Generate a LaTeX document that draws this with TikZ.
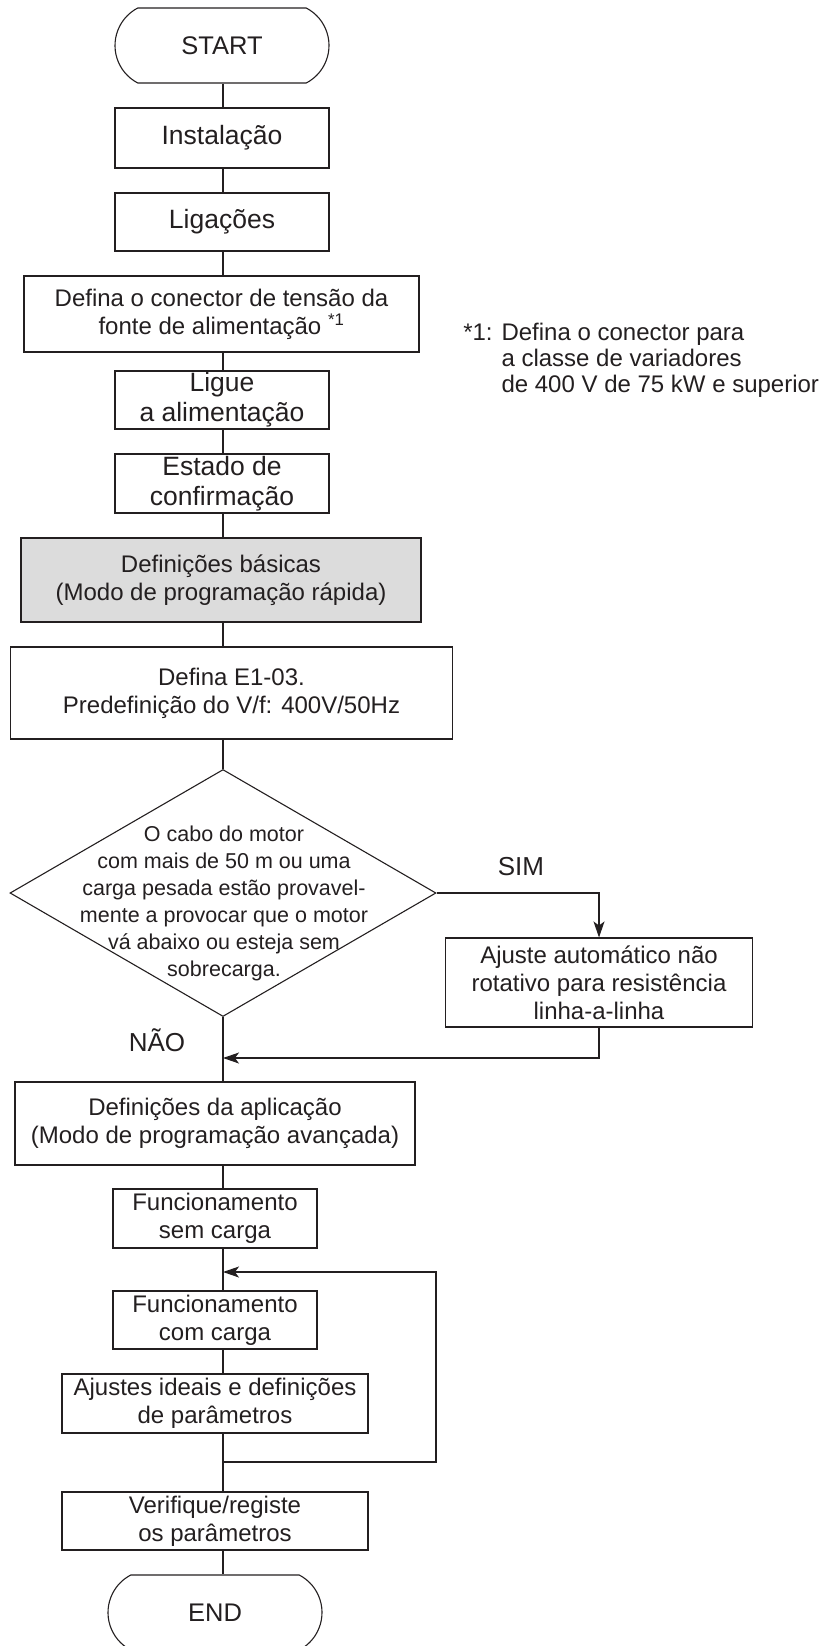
\documentclass[tikz,border=0pt]{standalone}
\usepackage{fontspec}
\setmainfont{Liberation Sans}
\usepackage{tikz}
\usetikzlibrary{arrows.meta, shapes.geometric, shapes.misc}
\definecolor{ink}{RGB}{35,31,32}
\definecolor{shade}{RGB}{220,220,220}

\begin{document}
\begin{tikzpicture}[
  x=1pt, y=-1pt,
  font=\fontsize{24}{28}\selectfont,
  box/.style={
    draw=ink, text=ink, align=center, inner sep=0pt, line width=1.1pt
  },
  bigbox/.style={box, font=\fontsize{26.5}{30}\selectfont},
  term/.style={box, rounded rectangle, rounded rectangle arc length=125,
    minimum width=214, minimum height=75, font=\fontsize{25.5}{30}\selectfont},
  decide/.style={draw=ink, diamond, line width=1.1pt, inner sep=0pt,
    minimum width=426, minimum height=247},
  ask/.style={text=ink, align=center, font=\fontsize{21.5}{27}\selectfont},
  note/.style={text=ink, align=left, font=\fontsize{24}{26}\selectfont},
  lab/.style={text=ink, font=\fontsize{26}{28}\selectfont},
  link/.style={draw=ink, line width=1.1pt},
  arr/.style={link, -{Stealth[length=16pt, width=11pt, inset=4pt]}}
]
  \useasboundingbox (0,0) rectangle (823,1646);
  \clip (0,0) rectangle (823,1646);
  \coordinate (spine) at (223,0);

  \node[term] (start) at (222,45.5) {START};
  \node[bigbox, minimum width=214, minimum height=60] (inst) at (222,138) {Instalação};
  \node[bigbox, minimum width=214, minimum height=58] (wire) at (222,222) {Ligações};
  \node[box, minimum width=395, minimum height=76] (volt) at (221.5,314)
    {Defina o conector de tensão da\\fonte de alimentação \textsuperscript{*1}};
  \node[bigbox, minimum width=214, minimum height=58] (power) at (222,400)
    {Ligue\\a alimentação};
  \node[bigbox, minimum width=214, minimum height=59] (state) at (222,483.5)
    {Estado de\\confirmação};
  \node[box, fill=shade, minimum width=400, minimum height=84] (basic) at (221,580)
    {Definições básicas\\(Modo de programação rápida)};
  \node[box, minimum width=442, minimum height=92] (vf) at (231.5,693)
    {Defina E1-03.\\Predefinição do V/f: 400V/50Hz};

  \node[decide] (cable) at (223,893) {};
  \node[ask] (cableq) at (224,903) {O cabo do motor\\com mais de 50 m ou uma\\
    carga pesada estão provavel-\\mente a provocar que o motor\\
    vá abaixo ou esteja sem\\sobrecarga.};
  \node[box, minimum width=307, minimum height=89] (autotune) at (599,982.5)
    {Ajuste automático não\\rotativo para resistência\\linha-a-linha};

  \node[box, minimum width=400, minimum height=83] (app) at (215,1123.5)
    {Definições da aplicação\\(Modo de programação avançada)};
  \node[box, minimum width=204, minimum height=59] (noload) at (215,1218.5)
    {Funcionamento\\sem carga};
  \node[box, minimum width=204, minimum height=58] (load) at (215,1320)
    {Funcionamento\\com carga};
  \node[box, minimum width=306, minimum height=59] (adjust) at (215,1403.5)
    {Ajustes ideais e definições\\de parâmetros};
  \node[box, minimum width=306, minimum height=58] (verify) at (215,1521)
    {Verifique/registe\\os parâmetros};
  \node[term] (stop) at (215,1612.5) {END};

  \node[note, anchor=west] (fn) at (498,360) {\llap{*1: }Defina o conector para\\
    a classe de variadores\\de 400 V de 75 kW e superior};
  \node[lab] (yes) at (521,867) {SIM};
  \node[lab] (no) at (157,1040) {NÃO};

  \coordinate (join1) at (223,1058);
  \coordinate (join2) at (223,1272);
  \coordinate (loopout) at (223,1462);
  \coordinate (loopr) at (436,1462);

  \draw[link] (start.south -| spine) -- (inst.north -| spine);
  \draw[link] (inst.south -| spine) -- (wire.north -| spine);
  \draw[link] (wire.south -| spine) -- (volt.north -| spine);
  \draw[link] (volt.south -| spine) -- (power.north -| spine);
  \draw[link] (power.south -| spine) -- (state.north -| spine);
  \draw[link] (state.south -| spine) -- (basic.north -| spine);
  \draw[link] (basic.south -| spine) -- (vf.north -| spine);
  \draw[link] (vf.south -| spine) -- (cable.north);
  \draw[arr] (cable.east) -| (autotune.north);
  \draw[link] (cable.south) -- (app.north -| spine);
  \draw[arr] (autotune.south) |- (join1);
  \draw[link] (app.south -| spine) -- (noload.north -| spine);
  \draw[link] (noload.south -| spine) -- (load.north -| spine);
  \draw[link] (load.south -| spine) -- (adjust.north -| spine);
  \draw[link] (adjust.south -| spine) -- (verify.north -| spine);
  \draw[arr] (loopout) -- (loopr) |- (join2);
  \draw[link] (verify.south -| spine) -- (stop.north -| spine);
\end{tikzpicture}
\end{document}
